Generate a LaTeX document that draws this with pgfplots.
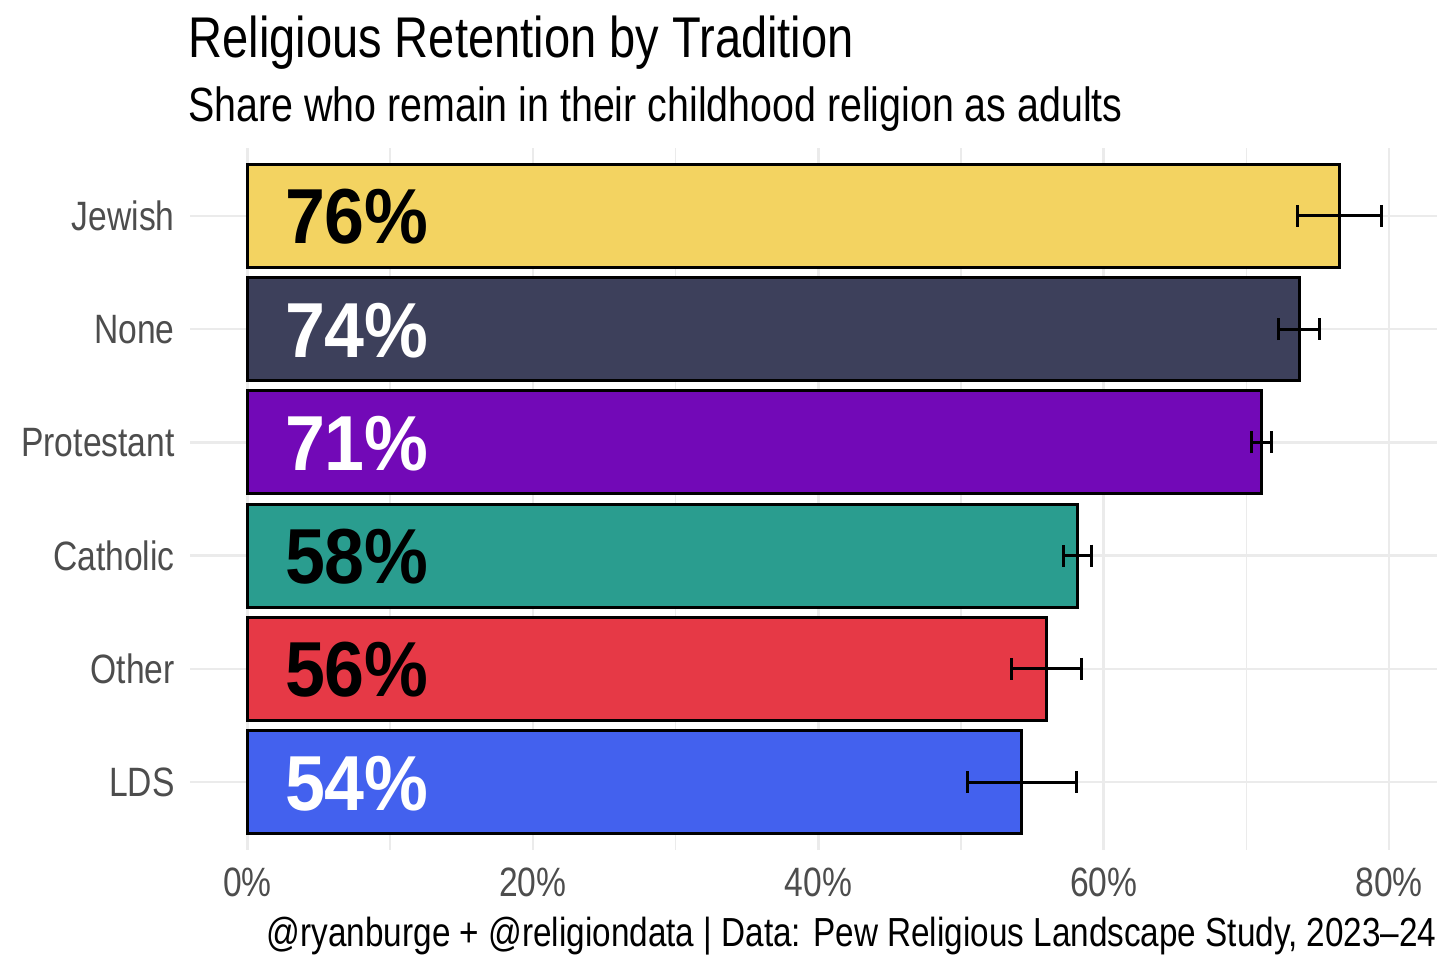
\documentclass[border=0pt]{standalone}
\usepackage{pgfplots}
\pgfplotsset{compat=1.18}
\usepackage{fontspec}
\setmainfont{Liberation Sans}[FakeStretch=0.82]
\newfontfamily\labfont{Liberation Sans Bold}[FakeStretch=0.92]
\definecolor{cJew}{HTML}{F3D361}
\definecolor{cNone}{HTML}{3D405B}
\definecolor{cProt}{HTML}{7209B7}
\definecolor{cCath}{HTML}{2A9D8F}
\definecolor{cOth}{HTML}{E63946}
\definecolor{cLDS}{HTML}{4361EE}
\definecolor{gridc}{HTML}{EBEBEB}
\definecolor{tickc}{HTML}{4D4D4D}
\begin{document}
\begin{tikzpicture}
\path[use as bounding box] (0,0) rectangle (728bp,485.5bp);
\node[anchor=base west, inner sep=0pt, font=\fontsize{28.7bp}{34bp}\selectfont] at (94bp,456.5bp) {Religious Retention by Tradition};
\node[anchor=base west, inner sep=0pt, font=\fontsize{24bp}{29bp}\selectfont] at (94bp,424.5bp) {Share who remain in their childhood religion as adults};
\node[anchor=base east, inner sep=0pt, font=\fontsize{20.3bp}{24bp}\selectfont] at (718.5bp,12.5bp) {@ryanburge + @religiondata | Data: Pew Religious Landscape Study, 2023–24};
\begin{axis}[
  at={(95bp,60.5bp)}, anchor=south west,
  scale only axis, width=623.5bp, height=351bp,
  xmin=-4.03, xmax=83.36, ymin=0.4, ymax=6.6,
  axis line style={draw=none},
  tick style={draw=none},
  major tick length=0pt, minor tick length=0pt,
  xtick={0,20,40,60,80}, minor xtick={10,30,50,70},
  ytick={1,2,3,4,5,6},
  yticklabels={LDS,Other,Catholic,Protestant,None,Jewish},
  xticklabel={\pgfmathprintnumber{\tick}\%},
  /pgf/number format/assume math mode=true,
  xmajorgrids, xminorgrids, ymajorgrids,
  major grid style={gridc, line width=1.3bp},
  minor grid style={gridc, line width=0.75bp},
  ticklabel style={font=\fontsize{20.5bp}{24bp}\selectfont, text=tickc, inner sep=0pt},
  yticklabel style={anchor=east, xshift=-7.5bp},
  xticklabel style={anchor=north, yshift=-8.5bp},
  every error bar/.append style={line width=1.5bp, black},
  error bars/error mark options={rotate=90, line width=1.5bp, mark size=5.5bp, black},
  clip=false,
]
\pgfplotsset{
  mybar/.style={xbar, bar width=0.91, bar shift=0pt, fill=#1, draw=black, line width=1.5bp,
    error bars/x dir=both, error bars/x explicit}
}
\addplot[mybar=cJew]  coordinates {(76.5,6) +- (2.94,0)};
\addplot[mybar=cNone] coordinates {(73.69,5) +- (1.46,0)};
\addplot[mybar=cProt] coordinates {(71.03,4) +- (0.70,0)};
\addplot[mybar=cCath] coordinates {(58.15,3) +- (0.98,0)};
\addplot[mybar=cOth]  coordinates {(55.98,2) +- (2.47,0)};
\addplot[mybar=cLDS]  coordinates {(54.25,1) +- (3.82,0)};
\tikzset{blab/.style={anchor=base west, inner sep=0pt, yshift=-14bp, font=\fontsize{39bp}{46bp}\labfont}}
\node[blab, text=black] at (axis cs:2.6,6) {76\%};
\node[blab, text=white] at (axis cs:2.6,5) {74\%};
\node[blab, text=white] at (axis cs:2.6,4) {71\%};
\node[blab, text=black] at (axis cs:2.6,3) {58\%};
\node[blab, text=black] at (axis cs:2.6,2) {56\%};
\node[blab, text=white] at (axis cs:2.6,1) {54\%};
\end{axis}
\end{tikzpicture}
\end{document}
